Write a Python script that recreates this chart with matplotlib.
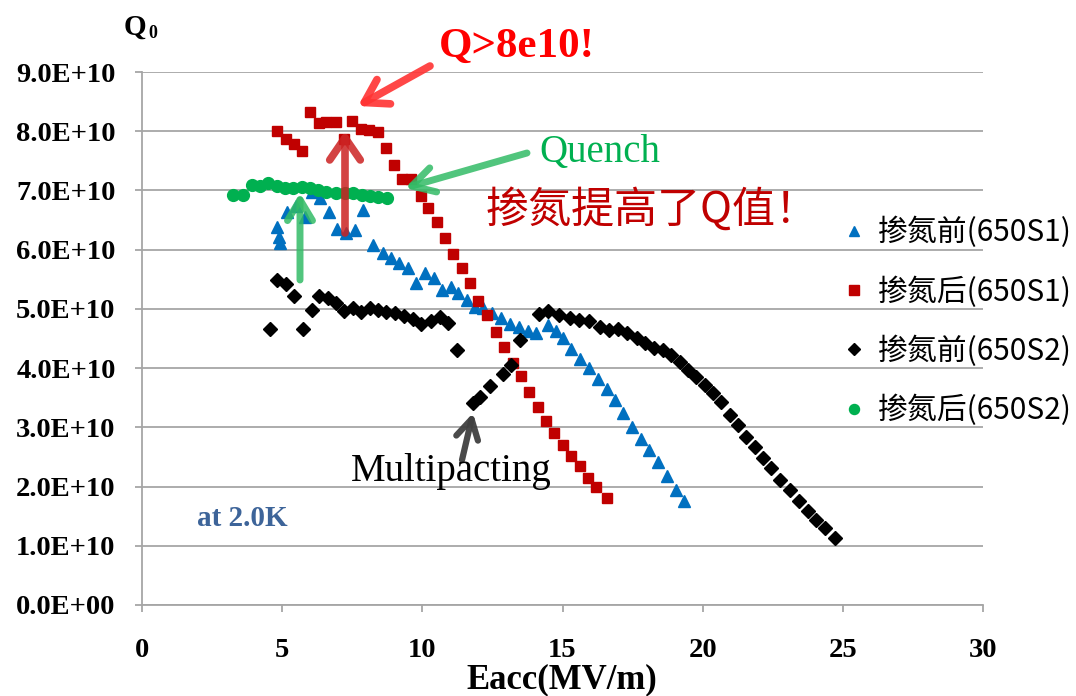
import numpy as np
import matplotlib
matplotlib.use('Agg')
import matplotlib.pyplot as plt
from matplotlib.ticker import FuncFormatter, MultipleLocator
from matplotlib.font_manager import FontProperties

# ---------------- data (Eacc in MV/m, Q0 in units of 1e10) ----------------
s1_before_x = [4.82, 4.88, 4.94, 5.18, 5.49, 5.81, 6.05, 6.35, 6.68, 6.94, 7.26, 7.59, 7.89,
               8.25, 8.58, 8.88, 9.17, 9.48, 9.77, 10.11, 10.41, 10.71, 11.02, 11.28, 11.58,
               11.87, 12.17, 12.50, 12.82, 13.12, 13.44, 13.76, 14.07, 14.47, 14.76, 15.02,
               15.32, 15.62, 15.94, 16.26, 16.57, 16.86, 17.17, 17.49, 17.79, 18.09, 18.41,
               18.71, 19.04, 19.32]
s1_before_q = [6.39, 6.22, 6.11, 6.64, 6.74, 6.56, 6.98, 6.87, 6.63, 6.35, 6.28, 6.33, 6.67,
               6.08, 5.94, 5.86, 5.77, 5.69, 5.44, 5.60, 5.53, 5.32, 5.37, 5.27, 5.15,
               5.04, 5.01, 4.93, 4.84, 4.75, 4.69, 4.62, 4.59, 4.73, 4.62, 4.51,
               4.32, 4.16, 4.00, 3.82, 3.65, 3.46, 3.24, 3.00, 2.80, 2.62, 2.41,
               2.18, 1.94, 1.76]

s1_after_x = [4.82, 5.13, 5.43, 5.71, 6.00, 6.30, 6.58, 6.91, 7.20, 7.50, 7.80, 8.09, 8.41,
              8.70, 9.00, 9.27, 9.59, 9.94, 10.21, 10.51, 10.80, 11.10, 11.40, 11.69, 11.99,
              12.31, 12.62, 12.91, 13.24, 13.51, 13.81, 14.11, 14.40, 14.70, 15.00, 15.29,
              15.61, 15.91, 16.21, 16.57]
s1_after_q = [8.01, 7.87, 7.79, 7.67, 8.32, 8.14, 8.15, 8.16, 7.87, 8.18, 8.04, 8.02, 7.99,
              7.72, 7.43, 7.20, 7.20, 6.90, 6.70, 6.47, 6.19, 5.93, 5.69, 5.43, 5.14,
              4.89, 4.61, 4.35, 4.08, 3.86, 3.60, 3.35, 3.11, 2.90, 2.71, 2.52,
              2.34, 2.15, 2.00, 1.80]

s2_before_x = [4.56, 4.82, 5.13, 5.43, 5.75, 6.05, 6.32, 6.62, 6.92, 7.21, 7.51, 7.81, 8.13,
               8.42, 8.72, 9.02, 9.34, 9.65, 9.97, 10.30, 10.62, 10.91, 11.24, 11.81, 12.05,
               12.43, 12.87, 13.18, 13.50, 14.15, 14.50, 14.89, 15.25, 15.60, 15.96, 16.32,
               16.65, 16.98, 17.29, 17.64, 17.93, 18.25, 18.58, 18.88, 19.18, 19.48, 19.78,
               20.07, 20.37, 20.67, 20.96, 21.26, 21.56, 21.85, 22.15, 22.45, 22.77, 23.10,
               23.42, 23.75, 24.05, 24.35, 24.71]
s2_before_q = [4.66, 5.48, 5.42, 5.22, 4.66, 4.98, 5.21, 5.18, 5.10, 4.97, 5.01, 4.95, 5.01,
               4.98, 4.95, 4.93, 4.88, 4.83, 4.75, 4.79, 4.86, 4.76, 4.31, 3.41, 3.52,
               3.70, 3.90, 4.05, 4.48, 4.92, 4.97, 4.90, 4.85, 4.81, 4.80, 4.70,
               4.65, 4.66, 4.59, 4.51, 4.42, 4.34, 4.31, 4.22, 4.11, 3.97, 3.85,
               3.72, 3.58, 3.42, 3.21, 3.04, 2.84, 2.67, 2.48, 2.31, 2.11, 1.94,
               1.75, 1.58, 1.44, 1.30, 1.13]

s2_after_x = [3.25, 3.61, 3.91, 4.21, 4.50, 4.80, 5.10, 5.39, 5.69, 5.99, 6.29, 6.58, 6.92,
              7.24, 7.53, 7.83, 8.13, 8.42, 8.75]
s2_after_q = [6.93, 6.93, 7.09, 7.07, 7.12, 7.07, 7.04, 7.04, 7.06, 7.04, 7.01, 6.98, 6.96,
              6.95, 6.95, 6.93, 6.91, 6.89, 6.87]

series_labels = ['掺氮前(650S1)', '掺氮后(650S1)', '掺氮前(650S2)', '掺氮后(650S2)']
x_ticks = [0, 5, 10, 15, 20, 25, 30]
SCALE = 1e10

# ---------------- figure ----------------
W, H = 1076, 696
fig = plt.figure(figsize=(W / 100, H / 100), dpi=100)
L, R, T, B = 142, 983, 72, 605
ax = fig.add_axes([L / W, 1 - B / H, (R - L) / W, (B - T) / H])

grid_c = '#A6A6A6'
serif_b = FontProperties(family='Liberation Serif', weight='bold', size=20.5)

ax.set_xlim(0, 30)
ax.set_ylim(0, 9e10)
ax.yaxis.set_major_locator(MultipleLocator(1e10))
ax.set_xticks(x_ticks)
ax.yaxis.set_major_formatter(FuncFormatter(lambda v, p: f"{v:.1E}"))
ax.grid(axis='y', color=grid_c, lw=1.3, zorder=0)
ax.set_axisbelow(True)
for s in ['top', 'right']:
    ax.spines[s].set_visible(False)
for s in ['left', 'bottom']:
    ax.spines[s].set_color(grid_c)
    ax.spines[s].set_linewidth(1.3)
ax.tick_params(axis='y', length=5, width=1.3, color=grid_c, pad=14)
ax.tick_params(axis='x', length=5, width=1.3, color=grid_c, pad=19)
for lab in ax.get_xticklabels() + ax.get_yticklabels():
    lab.set_fontproperties(serif_b)

def arr(v):
    return np.array(v) * SCALE

h1, = ax.plot(s1_before_x, arr(s1_before_q), ls='none', marker='^', ms=9,
              color='#0070C0', mec='#0070C0', label=series_labels[0], zorder=3)
h2, = ax.plot(s1_after_x, arr(s1_after_q), ls='none', marker='s', ms=7.8,
              color='#C00000', mec='#C00000', label=series_labels[1], zorder=3)
h3, = ax.plot(s2_before_x, arr(s2_before_q), ls='none', marker='D', ms=6.8,
              color='#000000', mec='#000000', label=series_labels[2], zorder=3)
h4, = ax.plot(s2_after_x, arr(s2_after_q), ls='none', marker='o', ms=8.5,
              color='#00B050', mec='#00B050', label=series_labels[3], zorder=3)

leg_fs = 21.5
leg = ax.legend(handles=[h1, h2, h3, h4], loc='upper left',
                bbox_to_anchor=(841 / W, 1 - 217 / H), bbox_transform=fig.transFigure,
                frameon=False, prop=FontProperties(family=['Noto Sans CJK SC', 'DejaVu Sans'], size=leg_fs),
                handlelength=0.9, handletextpad=0.33, labelspacing=0.93, borderpad=0,
                borderaxespad=0, markerscale=0.85)

# ---------------- axis titles ----------------
fig.text(124 / W, 1 - 27 / H, 'Q', fontproperties=FontProperties(family='Liberation Serif', weight='bold', size=21),
         ha='left', va='center')
fig.text(148 / W, 1 - 33 / H, '0', fontproperties=FontProperties(family='Liberation Serif', weight='bold', size=13),
         ha='left', va='center')
fig.text(562 / W, 1 - 680 / H, 'Eacc(MV/m)',
         fontproperties=FontProperties(family='Liberation Serif', weight='bold', size=25),
         ha='center', va='center')

# ---------------- annotations ----------------
def px2data(px, py):
    return ((px - L) / (R - L) * 30, (B - py) / (B - T) * 9e10)

def arrow(p_from, p_to, color, lw, alpha, hl, hw):
    ax.annotate('', xy=px2data(*p_to), xytext=px2data(*p_from), annotation_clip=False,
                arrowprops=dict(arrowstyle=f'->,head_length={hl},head_width={hw}', color=color,
                                lw=lw, alpha=alpha, capstyle='round', joinstyle='round',
                                shrinkA=0, shrinkB=0), zorder=5)

arrow((430, 66), (358, 106), '#FF3333', 5.5, 0.9, 1.6, 1.0)
arrow((527, 153), (405, 188), '#33BB66', 5.0, 0.85, 1.6, 0.9)
arrow((300, 280), (300, 193), '#33BB66', 5.0, 0.85, 1.5, 0.9)
arrow((345, 233), (345, 131), '#CC2222', 5.5, 0.85, 1.6, 1.1)
arrow((462, 460), (473, 413), '#404040', 4.5, 0.95, 1.4, 0.8)

ax.text(*px2data(439, 47), 'Q>8e10!', color='#FF0000', ha='left', va='center',
        fontproperties=FontProperties(family='Liberation Serif', weight='bold', size=31), zorder=6)
ax.text(*px2data(539, 152), 'Quench', color='#00B050', ha='left', va='center',
        fontproperties=FontProperties(family='Liberation Serif', size=28), zorder=6)
ax.text(*px2data(486, 211), '掺氮提高了Q值！', color='#C00000', ha='left', va='center',
        fontproperties=FontProperties(family=['Noto Sans CJK SC', 'DejaVu Sans'], size=31), zorder=6)
ax.text(*px2data(351, 472), 'Multipacting', color='#000000', ha='left', va='center',
        fontproperties=FontProperties(family='Liberation Serif', size=28), zorder=6)
ax.text(*px2data(197, 518), 'at 2.0K', color='#3D6499', ha='left', va='center',
        fontproperties=FontProperties(family='Liberation Serif', weight='bold', size=21), zorder=6)

fig.savefig('out.png', dpi=100)
